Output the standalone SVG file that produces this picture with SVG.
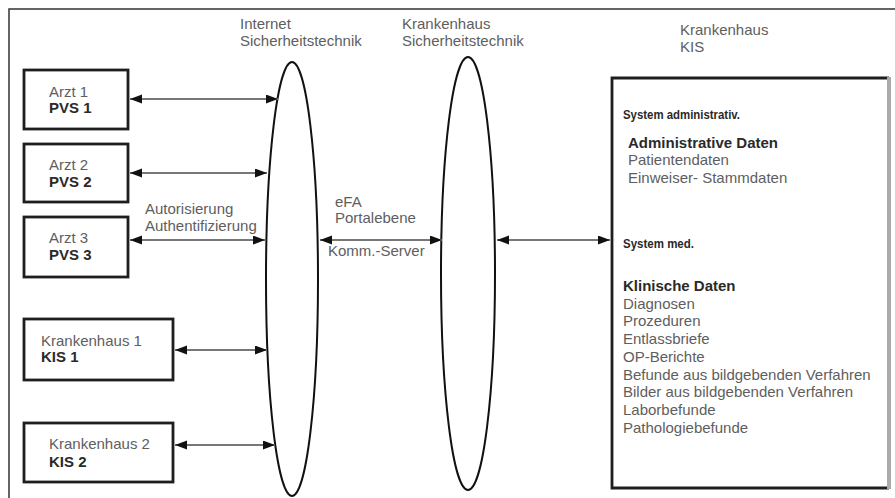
<svg xmlns="http://www.w3.org/2000/svg" width="895" height="498" viewBox="0 0 895 498">
<defs>
<style>
text{font-family:"Liberation Sans",Arial,sans-serif;font-size:15px;fill:#5e5e5e}
.b{font-weight:bold;fill:#2a2a2a}
.h{font-size:13.5px}
.box{fill:#fff;stroke:#1e1e1e;stroke-width:2.8}
.ell{fill:none;stroke:#111;stroke-width:2}
.con{stroke:#777;stroke-width:2;fill:none;marker-start:url(#ah);marker-end:url(#ah)}
</style>
<marker id="ah" markerUnits="userSpaceOnUse" markerWidth="12" markerHeight="10" refX="12" refY="4.5" orient="auto-start-reverse">
<path d="M0,0 L12,4.5 L0,9 z" fill="#111"/>
</marker>
</defs>
<rect width="895" height="498" fill="#fff"/>
<g id="frame" fill="none" stroke="#333" stroke-width="1.5">
<path d="M9,498 V9 H895"/>
</g>
<g id="labels">
<text x="240" y="29">Internet</text>
<text x="240" y="46">Sicherheitstechnik</text>
<text x="402" y="29">Krankenhaus</text>
<text x="402" y="46">Sicherheitstechnik</text>
<text x="680" y="35">Krankenhaus</text>
<text x="680" y="52">KIS</text>
<text x="145" y="214">Autorisierung</text>
<text x="145" y="231">Authentifizierung</text>
<text x="335" y="207">eFA</text>
<text x="335" y="223">Portalebene</text>
<text x="328" y="256">Komm.-Server</text>
</g>
<g id="arzt1"><rect class="box" x="24" y="70" width="104" height="59"/><text x="49" y="97">Arzt 1</text><text class="b" x="49" y="113">PVS 1</text></g>
<g id="arzt2"><rect class="box" x="24" y="144" width="104" height="58"/><text x="49" y="170">Arzt 2</text><text class="b" x="49" y="187">PVS 2</text></g>
<g id="arzt3"><rect class="box" x="24" y="217" width="104" height="60"/><text x="49" y="243">Arzt 3</text><text class="b" x="49" y="260">PVS 3</text></g>
<g id="kh1"><rect class="box" x="24" y="319" width="149" height="61"/><text x="41" y="346">Krankenhaus 1</text><text class="b" x="41" y="362">KIS 1</text></g>
<g id="kh2"><rect class="box" x="24" y="423" width="149" height="59"/><text x="49" y="449">Krankenhaus 2</text><text class="b" x="49" y="467">KIS 2</text></g>
<g id="internet-sicherheit"><ellipse class="ell" cx="292" cy="279" rx="26" ry="217"/></g>
<g id="kh-sicherheit"><ellipse class="ell" cx="468" cy="273.5" rx="27" ry="216.5"/></g>
<g id="kis">
<rect x="612" y="78" width="277" height="410" fill="#fff"/>
<path d="M889,78 H612 V488 H889" fill="none" stroke="#1e1e1e" stroke-width="2.8"/>
<path d="M889,77 V489" fill="none" stroke="#aaa" stroke-width="4"/>
<text class="b h" x="623" y="119" textLength="117" lengthAdjust="spacingAndGlyphs">System administrativ.</text>
<text class="b" x="628" y="148">Administrative Daten</text>
<text x="628" y="165">Patientendaten</text>
<text x="628" y="183">Einweiser- Stammdaten</text>
<text class="b h" x="623" y="248" textLength="71" lengthAdjust="spacingAndGlyphs">System med.</text>
<text class="b" x="623" y="291">Klinische Daten</text>
<text x="623" y="308.7">Diagnosen</text>
<text x="623" y="326.4">Prozeduren</text>
<text x="623" y="344.1">Entlassbriefe</text>
<text x="623" y="361.8">OP-Berichte</text>
<text x="623" y="379.5">Befunde aus bildgebenden Verfahren</text>
<text x="623" y="397.2">Bilder aus bildgebenden Verfahren</text>
<text x="623" y="414.9">Laborbefunde</text>
<text x="623" y="432.6">Pathologiebefunde</text>
</g>
<g id="connectors">
<path class="con" d="M130,99 H278"/>
<path class="con" d="M130,173 H267"/>
<path class="con" d="M130,240 H265"/>
<path class="con" d="M175,350 H267"/>
<path class="con" d="M175,445 H275"/>
<path class="con" d="M320,240 H442"/>
<path class="con" d="M497,240 H610"/>
</g>
</svg>
